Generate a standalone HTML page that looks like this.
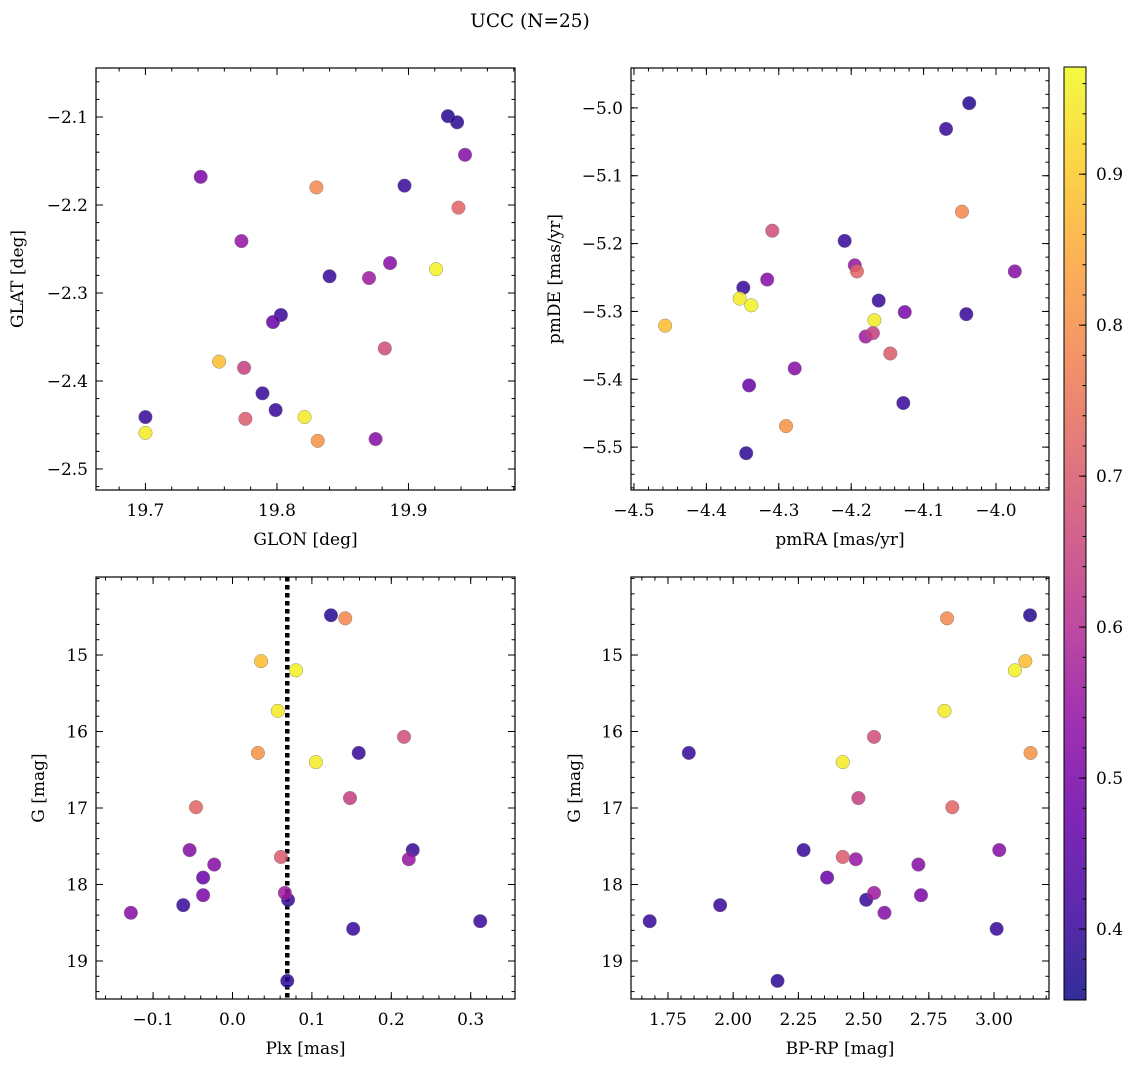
<!DOCTYPE html>
<html><head><meta charset="utf-8"><style>
html,body{margin:0;padding:0;background:#fff;}
svg{display:block;font-family:"DejaVu Serif","Liberation Serif",serif;}
</style></head><body>
<svg id="fig" width="1136" height="1067" viewBox="0 0 1136 1067" xmlns="http://www.w3.org/2000/svg">
<text x="530" y="27" font-size="18.5" text-anchor="middle">UCC (N=25)</text>
</svg>
<script>
// Per-star data (25 members)
const glon = [19.930,19.897,19.840,19.803,19.789,19.799,19.700,19.937, 19.943,19.742,19.773,19.886,19.797,19.870,19.875, 19.756,19.921,19.821,19.700, 19.830,19.831, 19.882,19.775,19.938,19.776];
const glat = [-2.099,-2.178,-2.281,-2.325,-2.414,-2.433,-2.441,-2.106, -2.143,-2.168,-2.241,-2.266,-2.333,-2.283,-2.466, -2.378,-2.273,-2.441,-2.459, -2.180,-2.468, -2.363,-2.385,-2.203,-2.443];
const pmra = [-4.037,-4.069,-4.209,-4.349,-4.162,-4.041,-4.128,-4.345, -3.974,-4.126,-4.195,-4.316,-4.341,-4.180,-4.278, -4.457,-4.338,-4.168,-4.354, -4.047,-4.290, -4.309,-4.170,-4.192,-4.146];
const pmde = [-4.993,-5.031,-5.196,-5.265,-5.284,-5.304,-5.435,-5.509, -5.241,-5.301,-5.232,-5.253,-5.409,-5.337,-5.384, -5.321,-5.291,-5.313,-5.281, -5.153,-5.469, -5.181,-5.332,-5.241,-5.362];
const plx  = [0.124,0.159,0.227,0.070,0.312,-0.062,0.152,0.069, -0.054,-0.037,0.222,-0.023,-0.037,0.066,-0.128, 0.036,0.080,0.057,0.105, 0.142,0.032, 0.216,0.148,-0.046,0.061];
const gmag = [14.48,16.28,17.55,18.20,18.48,18.27,18.58,19.26, 17.55,18.14,17.67,17.74,17.91,18.11,18.37, 15.08,15.20,15.73,16.40, 14.52,16.28, 16.07,16.87,16.99,17.64];
const bprp = [3.138,1.83,2.27,2.51,1.68,1.95,3.01,2.17, 3.02,2.72,2.47,2.71,2.36,2.54,2.58, 3.12,3.08,2.81,2.42, 2.82,3.14, 2.54,2.48,2.84,2.42];
const prob = [0.38,0.40,0.40,0.40,0.40,0.40,0.40,0.39, 0.52,0.50,0.55,0.52,0.47,0.56,0.52, 0.88,0.96,0.95,0.95, 0.79,0.81, 0.67,0.64,0.72,0.70];
const plxLine = [0.069];
const cbTicks = [0.4,0.5,0.6,0.7,0.8,0.9];

const NS="http://www.w3.org/2000/svg";
const svg=document.getElementById('fig');
function el(tag,attrs,parent){const e=document.createElementNS(NS,tag);for(const k in attrs)e.setAttribute(k,attrs[k]);(parent||svg).appendChild(e);return e;}
const VMIN=0.353,VMAX=0.971;
const plasma=[[13,8,135],[65,4,157],[106,0,168],[143,13,164],[177,42,144],[204,71,120],[225,100,98],[242,132,75],[252,166,54],[252,206,37],[240,249,33]];
function cmap(v){let t=(v-VMIN)/(VMAX-VMIN);t=Math.max(0,Math.min(1,t));const f=t*10,i=Math.min(9,Math.floor(f)),r=f-i;const a=plasma[i],b=plasma[i+1];return 'rgb('+a.map((c,k)=>Math.round(c+(b[k]-c)*r)).join(',')+')';}
function fmt(v,d){return (v<0?'\u2212':'')+Math.abs(v).toFixed(d);}
const FS=17;

function panel(o){
  const g=el('g',{});
  
  
  const X=v=>o.x0+(v-o.xmin)/(o.xmax-o.xmin)*(o.x1-o.x0);
  const Y=o.yinv? v=>o.y0+(v-o.ymin)/(o.ymax-o.ymin)*(o.y1-o.y0) : v=>o.y1-(v-o.ymin)/(o.ymax-o.ymin)*(o.y1-o.y0);
  const eps=1e-9;
  function ticksFor(min,max,step){const a=[];let s=Math.ceil((Math.min(min,max)-eps)/step);for(let v=s*step;v<=Math.max(min,max)+eps;v+=step)a.push(+v.toFixed(6));return a;}
  const tg=el('g',{stroke:'#000','stroke-width':1},g);
  
  
  ticksFor(o.xmin,o.xmax,o.xminor).forEach(v=>{const x=X(v);el('line',{x1:x,x2:x,y1:o.y1,y2:o.y1-3.5},tg);el('line',{x1:x,x2:x,y1:o.y0,y2:o.y0+3.5},tg);});
  ticksFor(o.ymin,o.ymax,o.yminor).forEach(v=>{const y=Y(v);el('line',{x1:o.x0,x2:o.x0+3.5,y1:y,y2:y},tg);el('line',{x1:o.x1,x2:o.x1-3.5,y1:y,y2:y},tg);});
  ticksFor(o.xmin,o.xmax,o.xmajor).forEach(v=>{const x=X(v);if(x<o.x0+2||x>o.x1-2)return;el('line',{x1:x,x2:x,y1:o.y1,y2:o.y1-7},tg);el('line',{x1:x,x2:x,y1:o.y0,y2:o.y0+7},tg);
    const t=el('text',{x:x,y:o.y1+26,'font-size':FS,'text-anchor':'middle'},g);t.textContent=fmt(v,o.xd);
    });
  ticksFor(o.ymin,o.ymax,o.ymajor).forEach(v=>{const y=Y(v);if(y<o.y0+2||y>o.y1-2)return;el('line',{x1:o.x0,x2:o.x0+7,y1:y,y2:y},tg);el('line',{x1:o.x1,x2:o.x1-7,y1:y,y2:y},tg);
    const t=el('text',{x:o.x0-8,y:y+6,'font-size':FS,'text-anchor':'end'},g);t.textContent=fmt(v,o.yd);
    });
  if(o.extra)o.extra(g,X,Y);
  for(let i=0;i<o.xs.length;i++){
    const c=el('circle',{cx:X(o.xs[i]),cy:Y(o.ys[i]),r:6.8,fill:cmap(prob[i]),'fill-opacity':0.85,stroke:'#777','stroke-width':0.4},g);
    
    
  }
  const fr=el('rect',{x:o.x0,y:o.y0,width:o.x1-o.x0,height:o.y1-o.y0,fill:'none',stroke:'#000','stroke-width':1.2},g);
  
  const xl=el('text',{x:(o.x0+o.x1)/2,y:o.y1+55,'font-size':FS,'text-anchor':'middle'},g);xl.textContent=o.xlabel;
  
  const yc=(o.y0+o.y1)/2;
  const yl=el('text',{x:o.ylx,y:yc,'font-size':FS,'text-anchor':'middle',transform:'rotate(-90 '+o.ylx+' '+yc+')'},g);yl.textContent=o.ylabel;
  
}

panel({name:'glon-glat-panel',x0:96,x1:515,y0:68,y1:490,xmin:19.6624,xmax:19.9810,ymin:-2.5239,ymax:-2.0443,
  xmajor:0.1,xminor:0.02,ymajor:0.1,yminor:0.02,xd:1,yd:1,xs:glon,ys:glat,xlabel:'GLON [deg]',ylabel:'GLAT [deg]',ylx:23});
panel({name:'pm-panel',x0:631,x1:1049,y0:68,y1:490,xmin:-4.5041,xmax:-3.9268,ymin:-5.5632,ymax:-4.9412,
  xmajor:0.1,xminor:0.02,ymajor:0.1,yminor:0.02,xd:1,yd:1,xs:pmra,ys:pmde,xlabel:'pmRA [mas/yr]',ylabel:'pmDE [mas/yr]',ylx:560});
panel({name:'plx-g-panel',x0:96,x1:515,y0:577,y1:999,xmin:-0.1719,xmax:0.3558,ymin:13.98,ymax:19.497,yinv:true,
  xmajor:0.1,xminor:0.02,ymajor:1,yminor:0.2,xd:1,yd:0,xs:plx,ys:gmag,xlabel:'Plx [mas]',ylabel:'G [mag]',ylx:44,
  extra:(g,X,Y)=>{plxLine.forEach(v=>{const l=el('line',{x1:X(v),x2:X(v),y1:577,y2:999,stroke:'#000','stroke-width':4.5,'stroke-dasharray':'4.5 3.5'},g);
    });}});
panel({name:'cmd-panel',x0:631,x1:1049,y0:577,y1:999,xmin:1.6083,xmax:3.2107,ymin:13.98,ymax:19.497,yinv:true,
  xmajor:0.25,xminor:0.05,ymajor:1,yminor:0.2,xd:2,yd:0,xs:bprp,ys:gmag,xlabel:'BP-RP [mag]',ylabel:'G [mag]',ylx:580});

(function(){
  const x0=1064,x1=1086,y0=67,y1=1000;
  const g=el('g',{});
  
  
  const defs=el('defs',{},g);
  const lg=el('linearGradient',{id:'cbg',x1:0,y1:1,x2:0,y2:0},defs);
  for(let i=0;i<=20;i++){el('stop',{offset:(i/20),'stop-color':cmap(VMIN+(VMAX-VMIN)*i/20),'stop-opacity':0.85},lg);}
  const r=el('rect',{x:x0,y:y0,width:x1-x0,height:y1-y0,fill:'url(#cbg)',stroke:'#000','stroke-width':1},g);
  
  const Y=v=>y1-(v-VMIN)/(VMAX-VMIN)*(y1-y0);
  for(let v=0.36;v<=VMAX+1e-9;v+=0.02){const y=Y(v);el('line',{x1:x1,x2:x1-3.5,y1:y,y2:y,stroke:'#000'},g);}
  cbTicks.forEach(v=>{const y=Y(v);el('line',{x1:x1,x2:x1-7,y1:y,y2:y,stroke:'#000'},g);
    const t=el('text',{x:x1+10,y:y+6,'font-size':FS},g);t.textContent=v.toFixed(1);
    });
})();
</script>
</body></html>
